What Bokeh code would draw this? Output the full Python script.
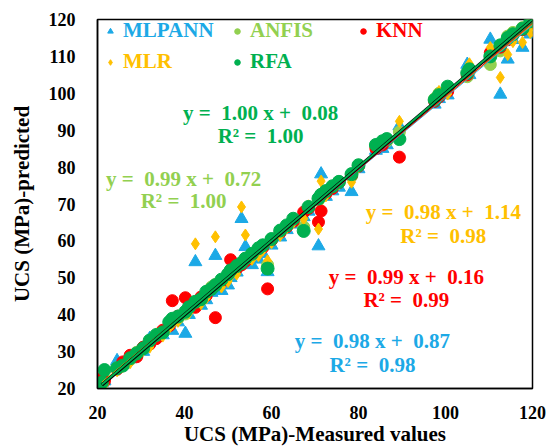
from bokeh.plotting import figure
from bokeh.models import Legend, LegendItem, Label, Range1d, FixedTicker
from bokeh.embed import file_html
from bokeh.resources import INLINE

# Measured UCS (MPa) of the test samples
measured = [21.0, 21.6, 24.5, 25.8, 27.5, 29.0, 30.5, 32.0, 33.5, 35.0,
            36.5, 37.2, 38.5, 40.2, 41.0, 42.5, 43.8, 45.0, 46.2, 47.1,
            48.5, 50.0, 50.6, 52.0, 53.1, 54.0, 55.5, 57.0, 58.0, 59.1,
            60.0, 62.0, 63.5, 65.0, 67.4, 68.5, 70.8, 71.4, 72.5, 74.0,
            75.5, 78.4, 80.0, 84.0, 85.5, 86.5, 89.4, 97.5, 98.5, 100.5,
            105.0, 105.5, 110.3, 112.6, 114.3, 115.5, 117.7, 119.5, 120.0]

# Predicted UCS (MPa) by each model
mlpann = [21.5, 22.0, 27.5, 26.5, 28.0, 29.5, 30.0, 33.5, 34.3, 34.5,
          36.0, 35.7, 38.0, 34.9, 40.0, 54.3, 42.5, 44.0, 46.0, 56.0,
          46.5, 48.0, 50.0, 51.5, 66.0, 58.4, 53.5, 55.0, 56.5, 51.6,
          58.8, 61.0, 63.0, 64.5, 66.5, 68.0, 58.6, 78.1, 72.0, 73.5,
          74.5, 73.3, 79.5, 84.5, 85.0, 86.0, 91.1, 97.0, 98.5, 99.5,
          107.8, 105.0, 114.6, 99.7, 109.2, 114.5, 112.4, 116.0, 118.0]
anfis = [21.8, 22.5, 25.6, 26.8, 27.8, 29.8, 30.8, 32.5, 33.9, 35.4,
         37.5, 38.5, 39.0, 40.2, 41.5, 43.2, 44.5, 45.8, 47.5, 48.2,
         49.0, 50.5, 51.5, 53.0, 54.0, 55.0, 56.0, 57.8, 58.5, 53.5,
         60.5, 62.5, 64.0, 65.5, 63.8, 69.0, 71.0, 72.0, 73.0, 74.5,
         76.0, 77.5, 80.5, 85.5, 86.5, 87.0, 89.5, 98.5, 100.0, 101.0,
         104.5, 106.0, 107.8, 111.5, 115.5, 116.5, 117.8, 118.5, 119.2]
knn = [22.7, 22.0, 25.2, 27.2, 29.0, 28.6, 31.2, 32.0, 33.5, 35.8,
       37.0, 43.8, 39.6, 44.6, 41.8, 42.0, 44.8, 45.2, 47.0, 39.2,
       48.8, 50.8, 54.9, 52.5, 53.5, 54.5, 56.2, 57.5, 58.2, 47.0,
       60.2, 62.3, 63.8, 65.3, 67.8, 68.8, 65.1, 68.1, 72.8, 74.2,
       75.8, 77.8, 80.2, 85.0, 86.0, 87.5, 82.7, 97.8, 99.0, 100.5,
       105.0, 106.2, 111.0, 112.5, 114.5, 115.8, 117.2, 119.0, 119.5]
mlr = [20.6, 21.0, 24.8, 25.9, 27.0, 29.4, 30.3, 31.2, 34.8, 34.2,
       36.5, 37.5, 38.2, 41.0, 40.5, 59.2, 43.0, 44.5, 46.8, 61.1,
       47.5, 49.0, 50.5, 51.0, 69.2, 61.6, 55.0, 56.0, 57.5, 54.6,
       59.5, 61.5, 63.5, 65.0, 66.0, 69.5, 63.2, 76.2, 72.2, 74.8,
       75.5, 75.9, 80.0, 86.0, 87.2, 87.5, 92.4, 98.5, 100.5, 99.8,
       106.5, 108.0, 112.4, 104.3, 110.5, 114.0, 113.8, 116.5, 117.0]
rfa = [21.6, 25.0, 25.5, 26.2, 28.2, 29.5, 30.9, 33.0, 34.5, 35.2,
       38.0, 38.9, 39.5, 40.8, 42.0, 43.5, 44.2, 46.2, 47.0, 48.0,
       49.5, 51.0, 52.0, 53.2, 54.0, 55.2, 56.5, 58.0, 58.8, 52.5,
       60.5, 62.8, 64.2, 66.0, 62.7, 69.2, 71.5, 72.5, 73.5, 74.8,
       76.0, 78.1, 80.5, 86.0, 87.0, 87.6, 87.6, 98.2, 99.5, 101.8,
       105.5, 106.5, 110.0, 113.0, 115.0, 116.0, 117.5, 119.5, 120.0]

# Linear trendlines (slope, intercept) and R²
fits = {
    "MLPANN": (0.98, 0.87, 0.98),
    "ANFIS": (0.99, 0.72, 1.00),
    "KNN": (0.99, 0.16, 0.99),
    "MLR": (0.98, 1.14, 0.98),
    "RFA": (1.00, 0.08, 1.00),
}

names = ["MLPANN", "ANFIS", "KNN", "MLR", "RFA"]
colors = {"MLPANN": "#1CA9E6", "ANFIS": "#92D050", "KNN": "#FF0000",
          "MLR": "#FFC000", "RFA": "#00B050"}
markers = {"MLPANN": "triangle", "ANFIS": "circle", "KNN": "circle",
           "MLR": "diamond", "RFA": "circle"}
sizes = {"MLPANN": 13, "ANFIS": 12, "KNN": 12, "MLR": 12, "RFA": 13}
series = {"MLPANN": mlpann, "ANFIS": anfis, "KNN": knn, "MLR": mlr, "RFA": rfa}

FONT = "Liberation Serif"
SP = "\u00a0"

p = figure(width=547, height=448, output_backend="svg", toolbar_location=None,
           x_range=Range1d(20, 120), y_range=Range1d(20, 120),
           min_border_left=97, min_border_right=15, min_border_top=19,
           min_border_bottom=57)
p.xgrid.visible = False
p.ygrid.visible = False
p.outline_line_color = "black"
p.outline_line_width = 1.5

for ax in (p.xaxis, p.yaxis):
    ax.major_tick_line_color = None
    ax.minor_tick_line_color = None
    ax.axis_line_color = "black"
    ax.axis_line_width = 1.5
    ax.major_label_text_font = FONT
    ax.major_label_text_font_style = "bold"
    ax.major_label_text_font_size = "18px"
    ax.major_label_text_color = "black"
    ax.axis_label_text_font = FONT
    ax.axis_label_text_font_style = "bold"
    ax.axis_label_text_font_size = "21px"
    ax.axis_label_text_color = "black"
p.yaxis.ticker = FixedTicker(ticks=[20, 30, 40, 50, 60, 70, 80, 90, 100, 110, 120])
p.xaxis.ticker = FixedTicker(ticks=[20, 40, 60, 80, 100, 120])
p.xaxis.axis_label = "UCS (MPa)-Measured values"
p.yaxis.axis_label = "UCS (MPa)-predicted"
p.xaxis.major_label_standoff = 11
p.yaxis.major_label_standoff = 16
p.xaxis.axis_label_standoff = 0
p.yaxis.axis_label_standoff = 12

renderers = {}
for n in names:
    renderers[n] = p.scatter(measured, series[n], marker=markers[n], size=sizes[n],
                             fill_color=colors[n], line_color=colors[n])

# Trendlines from each model's fitted equation, over the measured range
x0, x1 = min(measured), max(measured)
for n in ["MLPANN", "MLR", "ANFIS", "KNN"]:
    a, b, _ = fits[n]
    p.line([x0, x1], [a * x0 + b, a * x1 + b], line_color=colors[n], line_width=1)
p.line([x0, x1], [x0, x1], line_color="black", line_width=3.5)
a, b, _ = fits["RFA"]
p.line([x0, x1], [a * x0 + b, a * x1 + b], line_color=colors["RFA"], line_width=2)

# Equation labels
eq_pos = {"RFA": (57.5, 94.7, 88.3), "ANFIS": (39.8, 76.7, 70.8),
          "MLR": (99.5, 67.8, 61.4), "KNN": (91.0, 50.1, 43.9),
          "MLPANN": (83.2, 32.9, 26.5)}
for n in names:
    a, b, r2 = fits[n]
    x, y1, y2 = eq_pos[n]
    line1 = f"y ={SP}{SP}{a:.2f} x +{SP}{SP}{b:.2f}"
    line2 = f"R\u00b2 ={SP}{SP}{r2:.2f}"
    for txt, y in ((line1, y1), (line2, y2)):
        p.add_layout(Label(x=x, y=y, text=txt, text_align="center",
                           text_baseline="middle", text_font=FONT,
                           text_font_style="bold", text_font_size="21px",
                           text_color=colors[n]))

# One legend per entry so each label takes its series colour
leg_pos = {"MLPANN": (6, 345), "ANFIS": (133, 345), "KNN": (259, 345),
           "MLR": (6, 314), "RFA": (133, 314)}
for n in names:
    lg = Legend(items=[LegendItem(label=n, renderers=[renderers[n]])],
                location=leg_pos[n], background_fill_alpha=0,
                border_line_alpha=0, padding=0, margin=0, glyph_width=14,
                glyph_height=18, label_standoff=6, label_text_font=FONT,
                label_text_font_style="bold", label_text_font_size="21px",
                label_text_color=colors[n])
    p.add_layout(lg)

open("out.html", "w").write(file_html(p, INLINE))
